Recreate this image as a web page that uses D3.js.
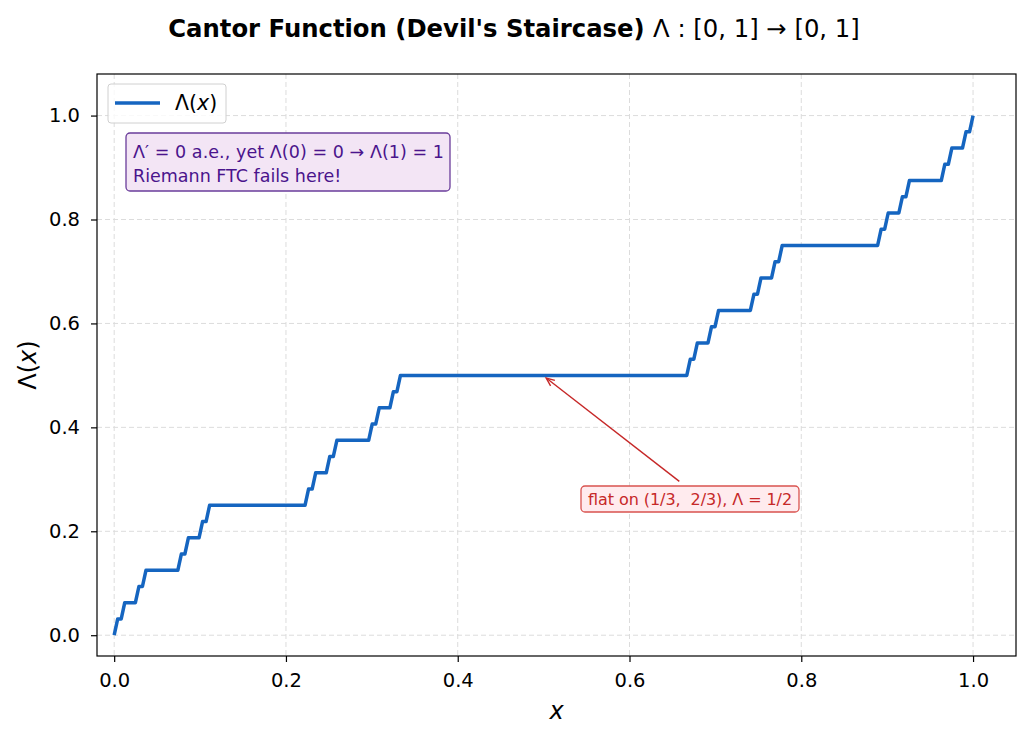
<!DOCTYPE html>
<html>
<head>
<meta charset="utf-8">
<script src="https://cdn.jsdelivr.net/npm/d3@7"></script>
<style>
	body { margin: 0; background: #fff; }
	svg { font-family: 'DejaVu Sans', sans-serif; }
</style>
</head>
<body>
<svg id="chart"></svg>
<script>
// staircase plateaus: level, start x, end x
var plateauLevel = [0.03125, 0.0625, 0.09375, 0.125, 0.15625, 0.1875, 0.21875, 0.25,
	0.28125, 0.3125, 0.34375, 0.375, 0.40625, 0.4375, 0.46875, 0.5,
	0.53125, 0.5625, 0.59375, 0.625, 0.65625, 0.6875, 0.71875, 0.75,
	0.78125, 0.8125, 0.84375, 0.875, 0.90625, 0.9375, 0.96875];
var plateauStart = [0.0041, 0.0123, 0.0288, 0.0370, 0.0782, 0.0864, 0.1029, 0.1111,
	0.2263, 0.2346, 0.2510, 0.2593, 0.3004, 0.3086, 0.3251, 0.3333,
	0.6708, 0.6790, 0.6955, 0.7037, 0.7449, 0.7531, 0.7695, 0.7778,
	0.8930, 0.9012, 0.9177, 0.9259, 0.9671, 0.9753, 0.9918];
var plateauEnd = [0.0082, 0.0247, 0.0329, 0.0741, 0.0823, 0.0988, 0.1070, 0.2222,
	0.2305, 0.2469, 0.2551, 0.2963, 0.3045, 0.3210, 0.3292, 0.6667,
	0.6749, 0.6914, 0.6996, 0.7407, 0.7490, 0.7654, 0.7737, 0.8889,
	0.8971, 0.9136, 0.9218, 0.9630, 0.9712, 0.9877, 0.9959];
var xTicks = [0.0, 0.2, 0.4, 0.6, 0.8, 1.0];
var yTicks = [0.0, 0.2, 0.4, 0.6, 0.8, 1.0];

var width = 1031;
var height = 738;
var plotLeft = 97, plotRight = 1016, plotTop = 74, plotBottom = 656;
var lineColor = '#1565c0';

var svg = d3.select('#chart')
	.attr('width', width)
	.attr('height', height);

var x = d3.scaleLinear().domain([-0.02, 1.05]).range([plotLeft, plotRight]);
var y = d3.scaleLinear().domain([-0.04, 1.08]).range([plotBottom, plotTop]);

//build the curve points from the plateaus
var points = [[0, 0]];
for(var i = 0; i < plateauLevel.length; i++)
{
	points.push([plateauStart[i], plateauLevel[i]]);
	points.push([plateauEnd[i], plateauLevel[i]]);
}
points.push([1, 1]);

//grid
svg.append('g')
	.selectAll('line')
	.data(xTicks)
	.enter()
	.append('line')
	.attr('x1', function(d) { return x(d); })
	.attr('x2', function(d) { return x(d); })
	.attr('y1', plotTop)
	.attr('y2', plotBottom)
	.attr('stroke', '#dcdcdc')
	.attr('stroke-width', 1)
	.attr('stroke-dasharray', '5,3');
svg.append('g')
	.selectAll('line')
	.data(yTicks)
	.enter()
	.append('line')
	.attr('x1', plotLeft)
	.attr('x2', plotRight)
	.attr('y1', function(d) { return y(d); })
	.attr('y2', function(d) { return y(d); })
	.attr('stroke', '#dcdcdc')
	.attr('stroke-width', 1)
	.attr('stroke-dasharray', '5,3');

//the staircase
var line = d3.line()
	.x(function(d) { return x(d[0]); })
	.y(function(d) { return y(d[1]); });
svg.append('path')
	.datum(points)
	.attr('d', line)
	.attr('fill', 'none')
	.attr('stroke', lineColor)
	.attr('stroke-width', 3.5)
	.attr('stroke-linejoin', 'round');

//axes
var xAxis = d3.axisBottom(x).tickValues(xTicks).tickFormat(d3.format('.1f'))
	.tickSizeOuter(0).tickSize(6).tickPadding(11);
var yAxis = d3.axisLeft(y).tickValues(yTicks).tickFormat(d3.format('.1f'))
	.tickSizeOuter(0).tickSize(6).tickPadding(11);
var gx = svg.append('g').attr('transform', 'translate(0,' + plotBottom + ')').call(xAxis);
var gy = svg.append('g').attr('transform', 'translate(' + plotLeft + ',0)').call(yAxis);
gx.select('.domain').remove();
gy.select('.domain').remove();
gx.attr('font-size', 19.5).attr('font-family', 'DejaVu Sans');
gy.attr('font-size', 19.5).attr('font-family', 'DejaVu Sans');
svg.selectAll('.tick text').attr('fill', '#000');
svg.selectAll('.tick line').attr('stroke', '#000').attr('stroke-width', 1.2);

svg.append('rect')
	.attr('x', plotLeft)
	.attr('y', plotTop)
	.attr('width', plotRight - plotLeft)
	.attr('height', plotBottom - plotTop)
	.attr('fill', 'none')
	.attr('stroke', '#000')
	.attr('stroke-width', 1.2);

//axis labels
svg.append('text')
	.attr('x', (plotLeft + plotRight) / 2)
	.attr('y', 719)
	.attr('text-anchor', 'middle')
	.attr('font-size', 24)
	.attr('font-style', 'italic')
	.text('x');
var yl = svg.append('text')
	.attr('transform', 'translate(36,' + ((plotTop + plotBottom) / 2) + ') rotate(-90)')
	.attr('text-anchor', 'middle')
	.attr('font-size', 24);
yl.append('tspan').text('Λ(');
yl.append('tspan').attr('font-style', 'italic').text('x');
yl.append('tspan').text(')');

//title
var title = svg.append('text')
	.attr('x', 514)
	.attr('y', 37)
	.attr('text-anchor', 'middle')
	.attr('font-size', 24.3);
title.append('tspan').attr('font-weight', 'bold').text("Cantor Function (Devil's Staircase) ");
title.append('tspan').text('Λ : [0, 1] → [0, 1]');

//legend
svg.append('rect')
	.attr('x', 108).attr('y', 84)
	.attr('width', 118).attr('height', 39)
	.attr('rx', 3)
	.attr('fill', '#fff')
	.attr('fill-opacity', 0.8)
	.attr('stroke', '#d0d0d0');
svg.append('line')
	.attr('x1', 115).attr('x2', 160)
	.attr('y1', 103).attr('y2', 103)
	.attr('stroke', lineColor)
	.attr('stroke-width', 3.5);
var lt = svg.append('text').attr('x', 175).attr('y', 110).attr('font-size', 20.5);
lt.append('tspan').text('Λ(');
lt.append('tspan').attr('font-style', 'italic').text('x');
lt.append('tspan').text(')');

//purple note
svg.append('rect')
	.attr('x', 126).attr('y', 133)
	.attr('width', 324).attr('height', 58)
	.attr('rx', 4)
	.attr('fill', '#f3e5f5')
	.attr('stroke', '#6a3d9a')
	.attr('stroke-width', 1.3);
svg.append('text')
	.attr('x', 133).attr('y', 158)
	.attr('font-size', 17.5)
	.attr('fill', '#4a148c')
	.attr('textLength', 311)
	.text('Λ′ = 0 a.e., yet Λ(0) = 0 → Λ(1) = 1');
svg.append('text')
	.attr('x', 133).attr('y', 182)
	.attr('font-size', 17.5)
	.attr('fill', '#4a148c')
	.text('Riemann FTC fails here!');

//red annotation with arrow
var red = '#c62828';
svg.append('line')
	.attr('x1', x(0.658)).attr('y1', y(0.296))
	.attr('x2', x(0.503)).attr('y2', y(0.495))
	.attr('stroke', red)
	.attr('stroke-width', 1.4);
var ax = x(0.503), ay = y(0.495);
var ang = Math.atan2(y(0.296) - ay, x(0.658) - ax);
var hl = 9;
svg.append('path')
	.attr('d', 'M' + (ax + hl * Math.cos(ang + 0.4)) + ',' + (ay + hl * Math.sin(ang + 0.4)) +
		'L' + ax + ',' + ay +
		'L' + (ax + hl * Math.cos(ang - 0.4)) + ',' + (ay + hl * Math.sin(ang - 0.4)))
	.attr('fill', 'none')
	.attr('stroke', red)
	.attr('stroke-width', 1.4);
svg.append('rect')
	.attr('x', 581).attr('y', 486)
	.attr('width', 218).attr('height', 26)
	.attr('rx', 4)
	.attr('fill', '#ffebee')
	.attr('stroke', '#d9534f')
	.attr('stroke-width', 1.3);
svg.append('text')
	.attr('x', 588).attr('y', 505)
	.attr('font-size', 16)
	.attr('fill', red)
	.attr('textLength', 204)
	.text('flat on (1/3,\u00a0 2/3), Λ = 1/2');
</script>
</body>
</html>
